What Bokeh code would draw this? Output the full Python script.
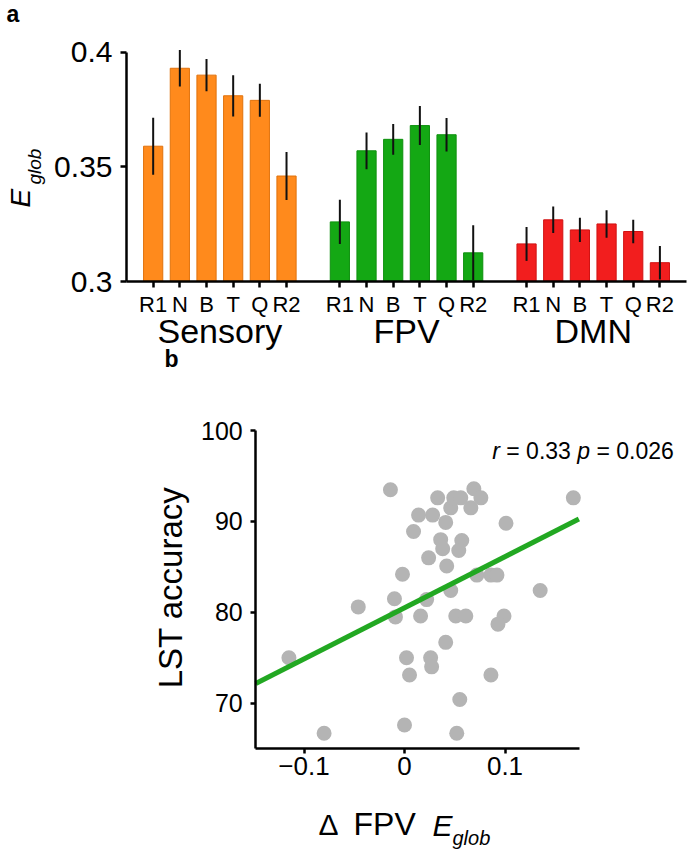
import math
from bokeh.plotting import figure
from bokeh.models import Range1d, Label, FixedTicker, ColumnDataSource
from bokeh.layouts import column
from bokeh.embed import file_html
from bokeh.resources import INLINE

# ---------------- data: panel a ----------------
groups = ["Sensory", "FPV", "DMN"]
conditions = ["R1", "N", "B", "T", "Q", "R2"]
sensory_mean = [0.359, 0.393, 0.390, 0.381, 0.379, 0.346]
sensory_err = [0.0124, 0.0080, 0.0070, 0.0090, 0.0072, 0.0105]
fpv_mean = [0.326, 0.357, 0.362, 0.368, 0.364, 0.3125]
fpv_err = [0.0097, 0.0080, 0.0067, 0.0085, 0.0073, 0.0120]
dmn_mean = [0.3164, 0.3269, 0.3225, 0.3251, 0.3218, 0.3082]
dmn_err = [0.0074, 0.0058, 0.0053, 0.0060, 0.0051, 0.0073]
group_colors = ["#FF8A1C", "#14A814", "#F21E1E"]
group_edges = ["#E0720C", "#0E900E", "#D01212"]
y_ticks_a = [0.3, 0.35, 0.4]
y_tick_labels_a = ["0.3", "0.35", "0.4"]

# ---------------- data: panel b ----------------
delta_fpv = [-0.115, -0.080, -0.046, -0.010, -0.009, -0.002, -0.014, 0.002, 0.005, 0.000,
             0.009, 0.016, 0.022, 0.014, 0.028, 0.026, 0.027, 0.024, 0.033, 0.036,
             0.038, 0.041, 0.042, 0.041, 0.046, 0.046, 0.049, 0.056, 0.066, 0.069,
             0.076, 0.057, 0.054, 0.072, 0.086, 0.092, 0.051, 0.061, 0.099, 0.093,
             0.086, 0.055, 0.052, 0.101, 0.135, 0.168]
lst_accuracy = [75.0, 66.7, 80.6, 81.5, 79.5, 84.2, 93.5, 75.0, 73.1, 67.6,
                88.9, 79.6, 81.4, 90.7, 90.7, 75.0, 74.0, 86.0, 92.6, 88.0,
                87.0, 89.9, 85.1, 76.7, 91.5, 82.4, 92.6, 92.6, 91.5, 93.6,
                92.6, 87.9, 86.8, 84.1, 84.1, 84.1, 79.6, 79.6, 79.6, 78.7,
                73.1, 70.4, 66.7, 89.8, 82.4, 92.6]
fit_slope = 56.3
fit_intercept = 80.5
x_ticks_b = [-0.1, 0, 0.1]
x_tick_labels_b = ["\u22120.1", "0", "0.1"]
y_ticks_b = [70, 80, 90, 100]
stat_r = "0.33"
stat_p = "0.026"

FONT = "Liberation Sans"
W = 689
A_H = 372          # panel a canvas: page y 0 .. 372
B_H = 480          # panel b canvas: page y 372 .. 852
SHIFT = 0.36       # empirical baseline correction (fraction of font size)


# ---------- layout helpers: page pixel -> data coordinate ----------
def a_x(px):   # slot units, slot 0 at the y axis
    return (px - 126.0) / 26.67


def a_y(py):
    return 0.3 + (281.0 - py) / 2293.0


def b_x(px):
    return (px - 404.0) / 1005.0


def b_y(py):
    return 70.0 + (702.7 - py) / 9.086


def style_axis(ax, size, tick_out, standoff):
    ax.major_label_text_font = FONT
    ax.major_label_text_font_size = size
    ax.major_label_text_color = "black"
    ax.axis_line_width = 2.5
    ax.axis_line_color = "black"
    ax.major_tick_line_width = 2.5
    ax.major_tick_out = tick_out
    ax.major_tick_in = 0
    ax.minor_tick_line_color = None
    ax.major_label_standoff = standoff


def add_text(p, fx, fy, px, py, text, size, style="normal", rotated=False, align="left"):
    """Place text whose baseline starts at page pixel (px, py)."""
    if rotated:
        px = px - SHIFT * size
    else:
        py = py - SHIFT * size
    p.add_layout(Label(x=fx(px), y=fy(py), text=text, angle=(math.pi / 2 if rotated else 0.0),
                       text_font=FONT, text_font_style=style, text_font_size=f"{size}px",
                       text_color="black", text_align=align, text_baseline="alphabetic"))


# ================= panel a =================
n_slot = len(conditions) + 1
means = [sensory_mean, fpv_mean, dmn_mean]
errs = [sensory_err, fpv_err, dmn_err]
xs, tops, lows, highs, fills, edges = [], [], [], [], [], []
tick_overrides = {}
for gi, g in enumerate(groups):
    for ci, c in enumerate(conditions):
        pos = gi * n_slot + ci + 1
        m = means[gi][ci]
        e = errs[gi][ci]
        xs.append(pos)
        tops.append(m)
        lows.append(m - e)
        highs.append(m + e)
        fills.append(group_colors[gi])
        edges.append(group_edges[gi])
        tick_overrides[pos] = c
a_axis_end = len(groups) * n_slot

src_a = ColumnDataSource(dict(x=xs, top=tops, lo=lows, hi=highs, fill=fills, edge=edges))

pA = figure(width=W, height=A_H, x_range=Range1d(a_x(0), a_x(W)), y_range=Range1d(a_y(A_H), a_y(0)),
            min_border=0, output_backend="svg", toolbar_location=None)
pA.vbar(x="x", top="top", bottom=y_ticks_a[0], width=0.72, fill_color="fill", line_color="edge",
        line_width=1, source=src_a)
pA.segment(x0="x", y0="lo", x1="x", y1="hi", line_color="#111111", line_width=2, source=src_a)
pA.xgrid.visible = False
pA.ygrid.visible = False
pA.outline_line_color = None

ya = pA.yaxis[0]
style_axis(ya, "30px", 6, 8)
ya.ticker = FixedTicker(ticks=y_ticks_a)
ya.major_label_overrides = {str(t): l for t, l in zip(y_ticks_a, y_tick_labels_a)}
ya.fixed_location = 0
ya.bounds = (y_ticks_a[0], y_ticks_a[-1])

xa = pA.xaxis[0]
style_axis(xa, "22px", 6, 4)
xa.ticker = FixedTicker(ticks=list(tick_overrides.keys()))
xa.major_label_overrides = tick_overrides
xa.fixed_location = y_ticks_a[0]
xa.bounds = (0, a_axis_end)

for gi, g in enumerate(groups):
    centre = gi * n_slot + (len(conditions) + 1) / 2.0
    pA.add_layout(Label(x=centre, y=a_y(343 - SHIFT * 34), text=g, text_font=FONT,
                        text_font_size="34px", text_color="black", text_align="center",
                        text_baseline="alphabetic"))

add_text(pA, a_x, a_y, 6, 22, "a", 23, style="bold")
add_text(pA, a_x, a_y, 30, 207, "E", 28, style="italic", rotated=True)
add_text(pA, a_x, a_y, 41, 184, "glob", 19, style="italic", rotated=True)
add_text(pA, a_x, a_y, 164, 367, "b", 23, style="bold")

# ================= panel b =================
pB = figure(width=W, height=B_H, x_range=Range1d(b_x(0), b_x(W)),
            y_range=Range1d(b_y(A_H + B_H), b_y(A_H)),
            min_border=0, output_backend="svg", toolbar_location=None)
bx0, bx1 = -0.148, 0.1745
by0, by1 = 65, 100
pB.scatter(delta_fpv, lst_accuracy, size=15, fill_color="#B4B4B4", line_color=None)
fit_x = [bx0, bx1 - 0.001]
fit_y = [fit_intercept + fit_slope * v for v in fit_x]
pB.line(fit_x, fit_y, line_color="#22A822", line_width=5)
pB.xgrid.visible = False
pB.ygrid.visible = False
pB.outline_line_color = None

xb = pB.xaxis[0]
style_axis(xb, "26px", 5, 3)
xb.ticker = FixedTicker(ticks=x_ticks_b)
xb.major_label_overrides = {str(t): l for t, l in zip(x_ticks_b, x_tick_labels_b)}
xb.fixed_location = by0
xb.bounds = (bx0, bx1)

yb = pB.yaxis[0]
style_axis(yb, "25px", 5, 8)
yb.ticker = FixedTicker(ticks=y_ticks_b)
yb.fixed_location = bx0
yb.bounds = (by0, by1)

add_text(pB, b_x, b_y, 182, 587, "LST accuracy", 33, rotated=True, align="center")
add_text(pB, b_x, b_y, 318, 835, "\u0394", 30)
add_text(pB, b_x, b_y, 353, 835, "FPV", 32)
add_text(pB, b_x, b_y, 432, 836, "E", 30, style="italic")
add_text(pB, b_x, b_y, 452, 845, "glob", 20, style="italic")

stat_parts = [("r", "italic", 491.7), ("=", "normal", 505.8), (stat_r, "normal", 525.6),
              ("p", "italic", 576.8), ("=", "normal", 596.0), (stat_p, "normal", 615.8)]
for txt, style, px in stat_parts:
    add_text(pB, b_x, b_y, px, 458.3, txt, 23, style=style)

layout = column(pA, pB, spacing=0)
open("out.html", "w").write(file_html(layout, INLINE))
